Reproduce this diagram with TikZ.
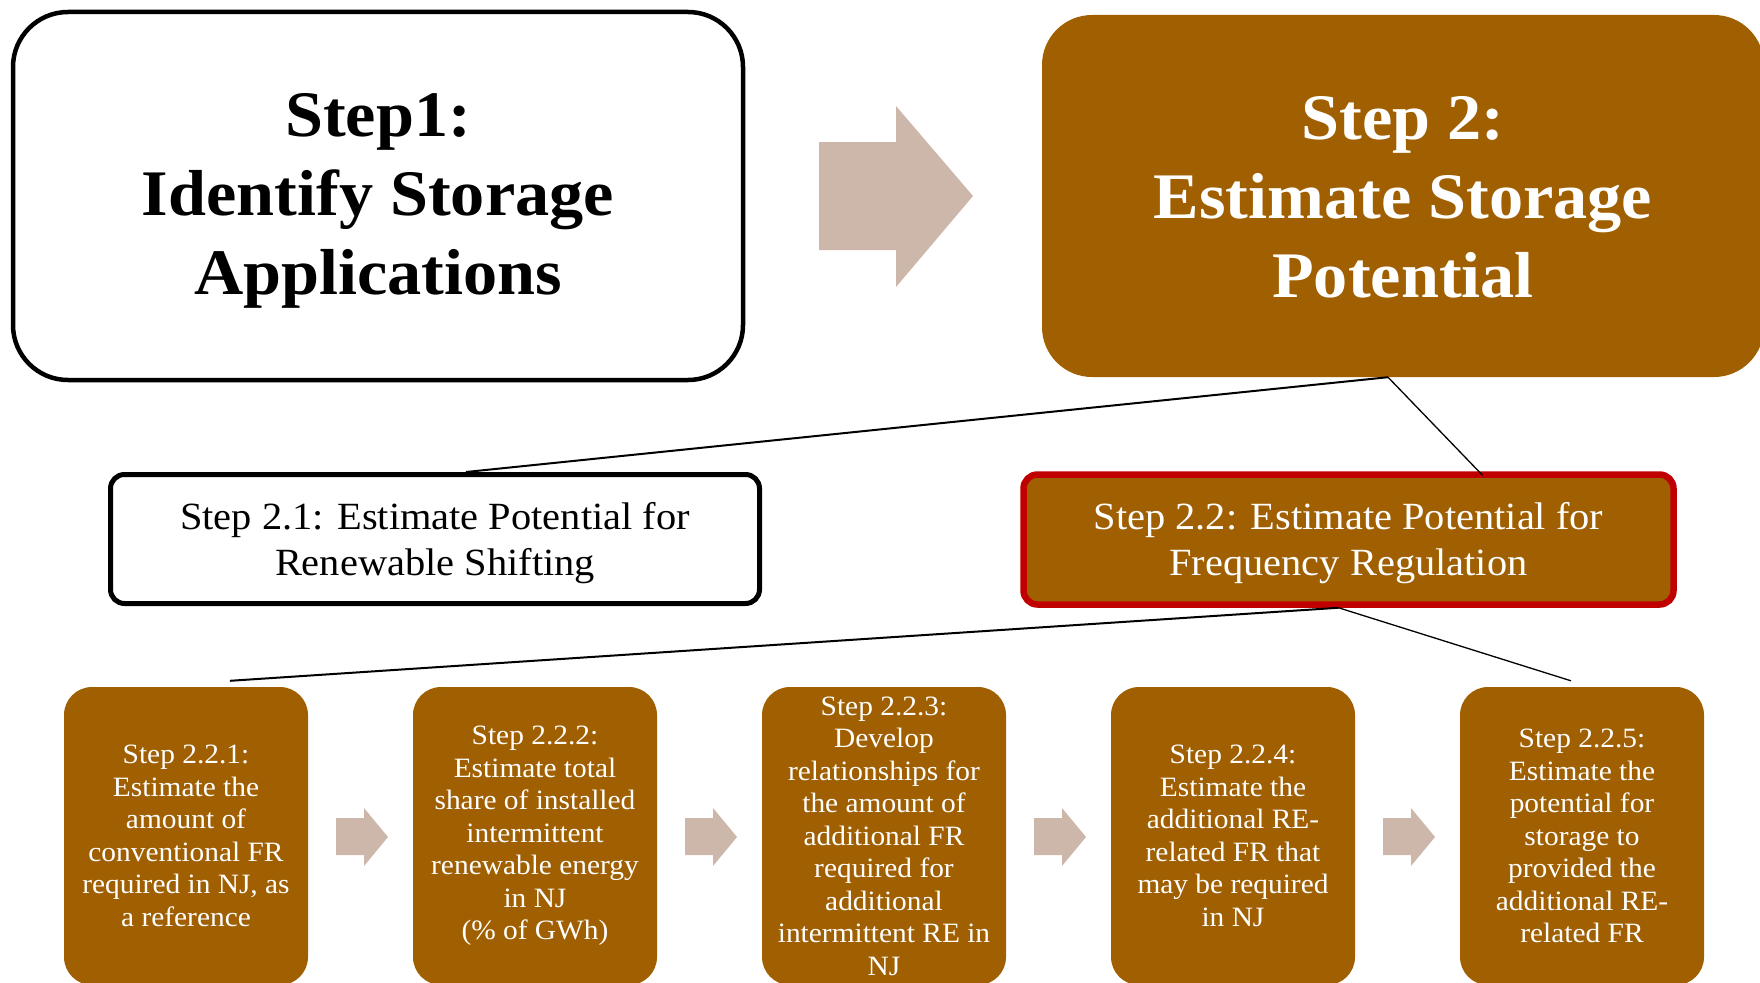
\documentclass[tikz,border=0pt]{standalone}
\usepackage{fontspec}
\setmainfont[FakeStretch=1.05]{Liberation Serif}
\definecolor{brn}{HTML}{A05F00}
\definecolor{arr}{HTML}{CDB6AA}
\definecolor{redb}{HTML}{C00000}
\tikzset{
  bigwhite/.style={draw=black, line width=4.5pt, fill=white, rounded corners=55pt, inner sep=0pt},
  bigbrown/.style={fill=brn, rounded corners=50pt, inner sep=0pt},
  bigtext/.style={align=center, inner sep=0pt, font=\bfseries\fontsize{65}{79}\selectfont},
  midwhite/.style={draw=black, line width=5pt, fill=white, rounded corners=14pt, inner sep=0pt,
    minimum width=649pt, minimum height=129pt},
  midbrown/.style={draw=redb, line width=6.5pt, fill=brn, rounded corners=14pt, inner sep=0pt,
    minimum width=650pt, minimum height=130pt},
  midtext/.style={align=center, inner sep=0pt, font=\fontsize{38.5}{46}\selectfont},
  smallbox/.style={fill=brn, text=white, rounded corners=28pt, align=center, inner sep=0pt,
    minimum width=244pt, minimum height=298pt, font=\fontsize{28}{32.5}\selectfont},
  conn/.style={draw=black, line width=1.3pt},
  flowarrow/.style={fill=arr, draw=none}
}
\begin{document}
\begin{tikzpicture}[x=1pt,y=-1pt]
\useasboundingbox (0,0) rectangle (1760,982);
\clip (0,0) rectangle (1760,982);

% top boxes
\node[bigwhite, minimum width=730pt, minimum height=368pt] (s1) at (378,196) {};
\node[bigtext] (s1t) at ([yshift=-5pt]s1.center) {Step1:\\Identify Storage\\Applications};
\node[bigbrown, minimum width=722pt, minimum height=362pt] (s2) at (1403,196) {};
\node[bigtext, text=white] (s2t) at ([yshift=-1pt]s2.center) {Step 2:\\Estimate Storage\\Potential};

% big arrow
\fill[flowarrow] (819,142) -- (896,142) -- (896,106) -- (973,196) -- (896,287) -- (896,250) -- (819,250) -- cycle;

% middle boxes
\node[midwhite] (s21) at (435,539) {};
\node[midtext] (s21t) at ([yshift=-4pt]s21.center) {Step 2.1: Estimate Potential for\\Renewable Shifting};
\node[midbrown] (s22) at (1348.5,539.5) {};
\node[midtext, text=white] (s22t) at ([yshift=-4pt]s22.center) {Step 2.2: Estimate Potential for\\Frequency Regulation};

% bottom boxes
\node[smallbox] (b1) at (186,836) {Step 2.2.1:\\Estimate the\\amount of\\conventional FR\\required in NJ, as\\a reference};
\node[smallbox] (b2) at (535,836) {Step 2.2.2:\\Estimate total\\share of installed\\intermittent\\renewable energy\\in NJ\\(\% of GWh)};
\node[smallbox] (b3) at (884,836) {Step 2.2.3:\\Develop\\relationships for\\the amount of\\additional FR\\required for\\additional\\intermittent RE in\\NJ};
\node[smallbox] (b4) at (1233,836) {Step 2.2.4:\\Estimate the\\additional RE-\\related FR that\\may be required\\in NJ};
\node[smallbox] (b5) at (1582,836) {Step 2.2.5:\\Estimate the\\potential for\\storage to\\provided the\\additional RE-\\related FR};

% small arrows
\foreach \dx in {0,349,698,1047}{
  \fill[flowarrow] (336+\dx,818) -- (364+\dx,818) -- (364+\dx,808) -- (388+\dx,837) -- (364+\dx,866) -- (364+\dx,855) -- (336+\dx,855) -- cycle;
}

% connectors
\draw[conn, line width=2pt] ([xshift=-15pt]s2.south) -- ([xshift=31pt]s21.north);
\draw[conn] ([xshift=-15pt]s2.south) -- ([xshift=134pt,yshift=-4pt]s22.north);
\draw[conn, line width=2pt] ([xshift=-10pt]s22.south) -- ([xshift=44pt,yshift=6pt]b1.north);
\draw[conn] ([xshift=-10pt]s22.south) -- ([xshift=-11pt,yshift=6pt]b5.north);
\end{tikzpicture}
\end{document}
